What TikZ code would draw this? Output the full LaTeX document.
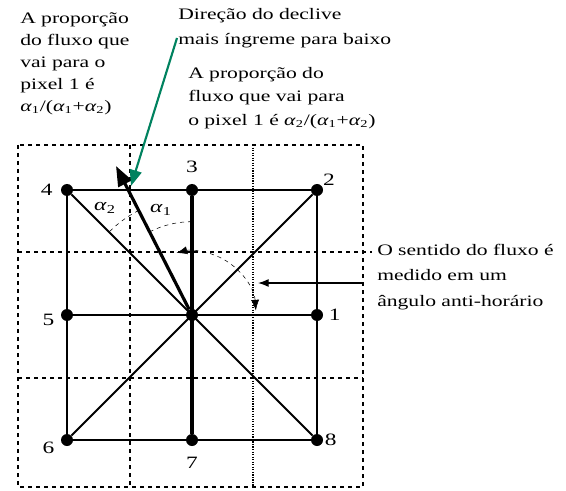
\documentclass[tikz,border=0pt]{standalone}
\usepackage{fontspec}
\setmainfont{Liberation Serif}
\newfontfamily\largo[FakeStretch=1.35]{Liberation Serif}
\usepackage{tikz}
\usetikzlibrary{positioning, arrows.meta}

\definecolor{verde}{RGB}{0,130,95}
\newcommand{\alfa}[1]{\textit{α}\textsubscript{#1}}

\begin{document}
\begin{tikzpicture}[
            x=0.75pt, y=-0.75pt,
            ponto/.style={
                    circle,
                    fill=black,
                    inner sep=0pt,
                    minimum size=9pt
                },
            rotulo/.style={
                    font=\largo\fontsize{13}{15}\selectfont,
                    inner sep=1pt
                },
            texto/.style={
                    font=\largo\fontsize{12}{16.5}\selectfont,
                    align=left,
                    anchor=north west,
                    inner sep=0pt
                },
            grade/.style={
                    dashed,
                    line width=0.9pt
                },
            ligacao/.style={
                    line width=1.4pt
                },
            seta/.style={
                    -{Triangle[length=15pt, width=11pt]},
                    line width=2.4pt
                }
        ]

        \useasboundingbox (0,0) rectangle (566,491);

        % grade tracejada
        \draw[grade] (18,145) rectangle (363,487);
        \draw[grade] (130,145) -- (130,487);
        \draw[grade, densely dotted, line width=1.5pt] (253,145) -- (253,487);
        \draw[grade] (18,252) -- (372,252);
        \draw[grade] (18,378) -- (363,378);

        % pixels
        \node[ponto] (c) at (192,315) {};
        \node[ponto] (p1) at (317,315) {};
        \node[ponto] (p2) at (317,190) {};
        \node[ponto] (p3) at (192,190) {};
        \node[ponto] (p4) at (67,190) {};
        \node[ponto] (p5) at (67,315) {};
        \node[ponto] (p6) at (67,440) {};
        \node[ponto] (p7) at (192,440) {};
        \node[ponto] (p8) at (317,440) {};

        \node[rotulo, left=5pt of p4] (n4) {4};
        \node[rotulo, above=7pt of p3] (n3) {3};
        \node[rotulo, above right=-1pt and 0pt of p2] (n2) {2};
        \node[rotulo, below left=-5pt and 5pt of p5] (n5) {5};
        \node[rotulo, right=3pt of p1] (n1) {1};
        \node[rotulo, below left=-3pt and 5pt of p6] (n6) {6};
        \node[rotulo, below=7pt of p7] (n7) {7};
        \node[rotulo, right=0pt of p8] (n8) {8};

        % ligacoes
        \draw[ligacao] (p4) -- (p3) -- (p2) -- (p1) -- (p8) -- (p7) -- (p6) -- (p5) -- (p4);
        \draw[ligacao] (p5) -- (p1);
        \draw[ligacao] (p4) -- (p8);
        \draw[ligacao] (p6) -- (p2);
        \draw[ligacao, line width=2.6pt] (p3) -- (p7);

        % direcao do fluxo
        \coordinate (dir) at (116,166);
        \draw[seta] (c) -- (dir);

        % angulos
        \draw[dashed, thin] (c) ++(90:70pt) arc[start angle=90, end angle=117, radius=70pt];
        \draw[dashed, thin] (c) ++(117:88pt) arc[start angle=117, end angle=135, radius=88pt];
        \node[rotulo] (a1) at (161,210) {\alfa{1}};
        \node[rotulo] (a2) at (105,208) {\alfa{2}};

        \draw[dashed, thin, {Latex[length=8pt]}-{Latex[length=8pt]}] (c) ++(4:64*0.75pt)
            arc[start angle=4, end angle=104, radius=64*0.75pt];

        % textos
        \node[texto] (t1) at (20,12) {A proporção\\do fluxo que\\vai para o\\pixel 1 é\\\alfa{1}/(\alfa{1}+\alfa{2})};
        \node[texto, font=\largo\fontsize{12}{18.5}\selectfont] (t2) at (178,8) {Direção do declive\\mais íngreme para baixo};
        \node[texto, font=\largo\fontsize{12}{17.5}\selectfont] (t3) at (188,67) {A proporção do\\fluxo que vai para\\o pixel 1 é \alfa{2}/(\alfa{1}+\alfa{2})};
        \node[texto, font=\largo\fontsize{12}{19}\selectfont] (t4) at (377,244) {O sentido do fluxo é\\medido em um\\ângulo anti-horário};

        \coordinate (g0) at (177,38);
        \draw[verde, line width=1.6pt, -{Triangle[length=12pt, width=9pt]}] (g0) -- (131,186);

        \coordinate (l0) at (363,283);
        \draw[line width=1pt, -{Latex[length=8pt]}] (l0) -- (258,283);

    \end{tikzpicture}
\end{document}
